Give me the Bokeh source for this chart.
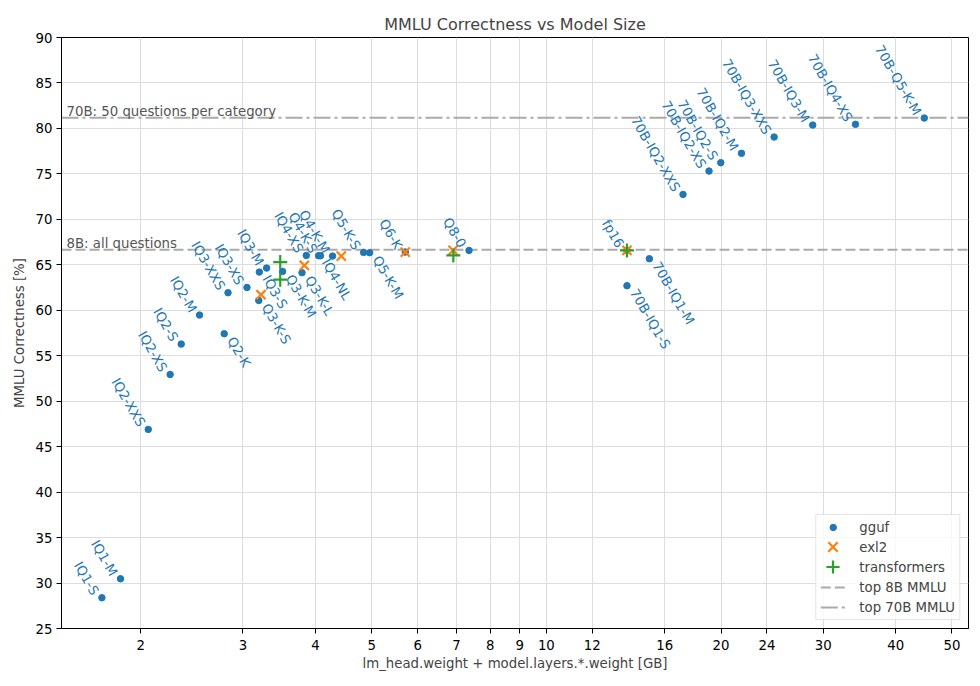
import math
from bokeh.plotting import figure
from bokeh.models import (Range1d, FixedTicker, PrintfTickFormatter, Legend, LegendItem,
                          ColumnDataSource, Label)
from bokeh.core.properties import value
from bokeh.embed import file_html
from bokeh.resources import INLINE

# ---------------- data ----------------
gguf_names = ["IQ1-S", "IQ1-M", "IQ2-XXS", "IQ2-XS", "IQ2-S", "IQ2-M", "Q2-K", "IQ3-XXS",
              "IQ3-XS", "IQ3-S", "Q3-K-S", "IQ3-M", "Q3-K-M", "Q3-K-L", "IQ4-XS", "IQ4-NL",
              "Q4-K-S", "Q4-K-M", "Q5-K-S", "Q5-K-M", "Q6-K", "Q8-0", "fp16",
              "70B-IQ1-S", "70B-IQ1-M", "70B-IQ2-XXS", "70B-IQ2-XS", "70B-IQ2-S", "70B-IQ2-M",
              "70B-IQ3-XXS", "70B-IQ3-M", "70B-IQ4-XS", "70B-Q5-K-M"]
gguf_size = [1.714, 1.845, 2.06, 2.247, 2.348, 2.525, 2.785, 2.827,
             3.048, 3.201, 3.194, 3.295, 3.510, 3.792, 3.857, 4.05,
             4.08, 4.281, 4.842, 4.959, 5.713, 7.357, 13.77,
             13.77, 15.05, 17.2, 19.07, 19.98, 21.69,
             24.69, 28.78, 34.10, 44.80]
gguf_score = [28.38, 30.47, 46.9, 52.94, 56.28, 59.47, 57.42, 61.93,
              62.51, 64.20, 61.08, 64.64, 64.27, 64.13, 66.03, 66.0,
              66.0, 65.96, 66.36, 66.33, 66.40, 66.58, 66.58,
              62.70, 65.67, 72.74, 75.31, 76.23, 77.26,
              79.05, 80.37, 80.45, 81.14]
below_right = {"Q2-K", "IQ3-S", "Q3-K-S", "Q3-K-M", "Q3-K-L", "IQ4-NL", "Q5-K-M",
               "70B-IQ1-S", "70B-IQ1-M"}

exl2_size = [3.222, 3.827, 4.432, 5.713, 6.904, 13.77]
exl2_score = [61.71, 64.93, 65.96, 66.40, 66.58, 66.58]

tf_size = [3.478, 3.478, 6.913, 13.77]
tf_score = [65.30, 63.36, 66.03, 66.58]

top_8b = 66.66
top_70b = 81.18

legend_labels = ["gguf", "exl2", "transformers", "top 8B MMLU", "top 70B MMLU"]

x_ticks = [2, 3, 4, 5, 6, 7, 8, 9, 10, 12, 16, 20, 24, 30, 40, 50]
y_ticks = list(range(25, 91, 5))
x_lim = (1.46, 53.4)
y_lim = (25, 90)

FONT = "DejaVu Sans"
BLUE, ORANGE, GREEN = "#1f77b4", "#ff7f0e", "#2ca02c"
GRAY = "#aaaaaa"

p = figure(width=972, height=678, x_axis_type="log", output_backend="svg",
           toolbar_location=None, title="MMLU Correctness vs Model Size",
           x_range=Range1d(*x_lim), y_range=Range1d(*y_lim),
           min_border_left=61, min_border_right=4, min_border_top=37, min_border_bottom=50)
p.title.align = "center"
p.title.text_font = FONT
p.title.text_font_size = "16px"
p.title.text_font_style = "normal"
p.title.standoff = 7

p.xaxis.ticker = FixedTicker(ticks=x_ticks)
p.xaxis.formatter = PrintfTickFormatter(format="%d")
p.yaxis.ticker = FixedTicker(ticks=y_ticks)
p.xaxis.axis_label = "lm_head.weight + model.layers.*.weight [GB]"
p.yaxis.axis_label = "MMLU Correctness [%]"
for ax in (p.xaxis[0], p.yaxis[0]):
    ax.axis_label_text_font = FONT
    ax.axis_label_text_font_size = "13.3px"
    ax.axis_label_text_font_style = "normal"
    ax.major_label_text_font = FONT
    ax.major_label_text_font_size = "13.3px"
    ax.major_label_text_color = "black"
    ax.minor_tick_line_color = None
    ax.major_tick_out = 5
    ax.major_tick_in = 0
    ax.axis_line_color = "black"
    ax.major_tick_line_color = "black"
p.xaxis.major_label_standoff = 6
p.yaxis.major_label_standoff = 4
p.xaxis.axis_label_standoff = 3
p.yaxis.axis_label_standoff = 6
p.grid.grid_line_color = "#dddddd"
p.grid.grid_line_width = 1
p.outline_line_color = "black"
p.outline_line_alpha = 1

# reference lines
r8 = p.line(list(x_lim), [top_8b, top_8b], line_color=GRAY, line_width=2, line_dash="10 4")
r70 = p.line(list(x_lim), [top_70b, top_70b], line_color=GRAY, line_width=2, line_dash="17 4 3 4")
p.add_layout(Label(x=x_lim[0], y=top_8b, text="8B: all questions", x_offset=5, y_offset=6,
                   text_font=FONT, text_font_size="13.3px", text_color="#555555",
                   text_baseline="alphabetic"))
p.add_layout(Label(x=x_lim[0], y=top_70b, text="70B: 50 questions per category", x_offset=5, y_offset=6,
                   text_font=FONT, text_font_size="13.3px", text_color="#555555",
                   text_baseline="alphabetic"))

rg = p.scatter(gguf_size, gguf_score, size=6.5, color=BLUE, marker="circle")
rx = p.scatter(exl2_size, exl2_score, size=13, line_color=ORANGE, line_width=2.2, marker="x")
rt = p.scatter(tf_size, tf_score, size=14, line_color=GREEN, line_width=2.2, marker="cross")

al = {"x": [], "y": [], "t": []}
br = {"x": [], "y": [], "t": []}
for n, s, v in zip(gguf_names, gguf_size, gguf_score):
    d = br if n in below_right else al
    d["x"].append(s); d["y"].append(v); d["t"].append(n)

ang = -math.pi / 3
p.text(x="x", y="y", text="t", source=ColumnDataSource(al), angle=ang,
       text_align="right", text_baseline="bottom", x_offset=-13, y_offset=0,
       text_font=value(FONT), text_font_size="13.3px", text_color=BLUE)
p.text(x="x", y="y", text="t", source=ColumnDataSource(br), angle=ang,
       text_align="left", text_baseline="bottom", x_offset=0, y_offset=8,
       text_font=value(FONT), text_font_size="13.3px", text_color=BLUE)

# empty renderer used to reserve legend rows without drawing a glyph
blank = p.scatter([], [], marker="circle", alpha=0)

legend = Legend(items=[LegendItem(label=legend_labels[0], renderers=[rg]),
                       LegendItem(label=legend_labels[1], renderers=[blank]),
                       LegendItem(label=legend_labels[2], renderers=[blank]),
                       LegendItem(label=legend_labels[3], renderers=[r8]),
                       LegendItem(label=legend_labels[4], renderers=[r70])],
                location="bottom_right")
legend.label_text_font = FONT
legend.label_text_font_size = "13.3px"
legend.border_line_color = "#cccccc"
legend.background_fill_alpha = 0.8
legend.glyph_width = 25
legend.glyph_height = 16
legend.spacing = 4
legend.padding = 4
legend.margin = 8
legend.label_standoff = 14
legend.label_height = 16
p.add_layout(legend)


def marker_overlay(renderer, pad, standoff):
    lg = Legend(items=[LegendItem(label="", renderers=[renderer])], location="bottom_right")
    lg.label_width = 0
    lg.label_height = 0
    lg.border_line_alpha = 0
    lg.background_fill_alpha = 0
    lg.glyph_width = 33
    lg.glyph_height = 33
    lg.padding = pad
    lg.margin = 45
    lg.label_standoff = standoff
    p.add_layout(lg)


# larger x / + markers for the exl2 and transformers legend rows
marker_overlay(rx, 20, 54)
marker_overlay(rt, 0, 74)

open("out.html", "w").write(file_html(p, INLINE))
